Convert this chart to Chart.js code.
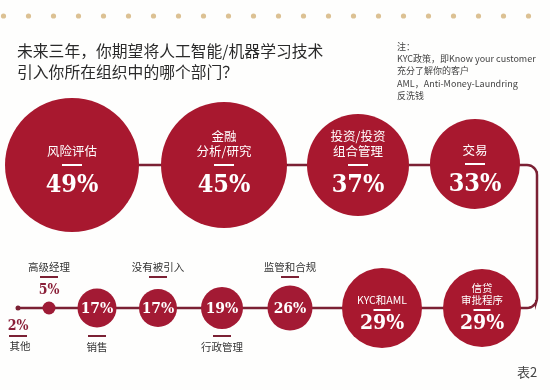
<!DOCTYPE html>
<html><head><meta charset="utf-8">
<script src="https://cdn.jsdelivr.net/npm/chart.js@4"></script>
<style>
html,body{margin:0;padding:0;background:#fefefd;}
#wrap{position:relative;width:550px;height:390px;overflow:hidden;}
#c{position:absolute;left:0;top:0;}
.title{position:absolute;left:17px;top:40px;font:15.8px/21px "Noto Sans CJK SC",sans-serif;color:#2a2a2a;white-space:nowrap;}
.note{position:absolute;left:397px;top:41px;font:9px/12.2px "Noto Sans CJK SC",sans-serif;color:#444;white-space:nowrap;}
.tab{position:absolute;left:517px;top:363px;font:13px/18px "Noto Sans CJK SC",sans-serif;color:#444;}
</style></head>
<body>
<div id="wrap">
<canvas id="c" width="550" height="390"></canvas>
<div class="title">未来三年，你期望将人工智能/机器学习技术<br>引入你所在组织中的哪个部门？</div>
<div class="note">注：<br>KYC政策，即Know your customer<br>充分了解你的客户<br>AML，Anti-Money-Laundring<br>反洗钱</div>
<div class="tab">表2</div>
</div>
<script>
// ---- data ----
const categories = ['风险评估','金融\n分析/研究','投资/投资\n组合管理','交易','信贷\n审批程序','KYC和AML','监管和合规','行政管理','没有被引入','销售','高级经理','其他'];
const values = [49,45,37,33,29,29,26,19,17,17,5,2];

// ---- layout (snake path slots, bubble sizes, label styles) ----
const slotX = [72,224,358,475,482,382,290,222,158,97,49,18];
const slotY = [165,165,165,164,308,308,308,308,308,308,308,308];
const radius = [67,63,51,45,39,40,22.5,21,19,19.5,6.5,2.5];
const kinds = ['big','big','big','big','bigB','bigB','smallA','smallB','smallA','smallB','dotA','dotB'];
const fills = ['#a8182f','#a8182f','#a8182f','#a8182f','#a8182f','#a8182f','#a31a34','#a31a34','#a31a34','#a31a34','#9e1b36','#7b2134'];
const LINE = '#7b2134';
const CJK = '"Noto Sans CJK SC", sans-serif';
const PCT = '"DejaVu Serif Condensed","DejaVu Serif",serif';

// connector path with rounded corners on the right
function arcPts(cx, cy, r, a0, a1, n){
  const p=[]; for(let k=0;k<=n;k++){const a=(a0+(a1-a0)*k/n)*Math.PI/180; p.push({x:cx+r*Math.cos(a), y:cy+r*Math.sin(a)});} return p;
}
const rightX = 537, cr = 10, topY = slotY[0], botY = slotY[4];
const connector = [{x:slotX[0],y:topY}]
  .concat(arcPts(rightX-cr, topY+cr, cr, -90, 0, 8))
  .concat(arcPts(rightX-cr, botY-cr, cr, 0, 90, 8))
  .concat([{x:slotX[11], y:botY}]);

const bgPlugin = {
  id:'bg',
  beforeDraw(chart){
    const ctx = chart.ctx; ctx.save();
    ctx.fillStyle = '#dcc193';
    for(let i=0;i<22;i++){ ctx.beginPath(); ctx.arc(3.5+25*i, 16, 2.6, 0, Math.PI*2); ctx.fill(); }
    ctx.restore();
  }
};

const labelPlugin = {
  id:'labels',
  afterDatasetsDraw(chart){
    const ctx = chart.ctx;
    const meta = chart.getDatasetMeta(1);
    ctx.save();
    ctx.textAlign = 'center'; ctx.textBaseline = 'middle';
    meta.data.forEach((el,i)=>{
      const x = el.x, y = el.y, k = kinds[i];
      const lines = categories[i].split('\n');
      const pct = values[i] + '%';
      if (k === 'big' || k === 'bigB') {
        const big = k === 'big';
        ctx.fillStyle = '#ffffff';
        ctx.font = (big ? '12.5px ' : '10.5px ') + CJK;
        const lh = big ? 15 : 12, last = big ? -14 : -8;
        lines.forEach((t,j)=>{ ctx.fillText(t, x, y + last - (lines.length-1-j)*lh); });
        const dw = big ? 20 : 17;
        ctx.fillRect(x - dw/2, y + (big ? -1 : 1), dw, 2);
        ctx.font = 'bold ' + (big ? 25 : 21) + 'px ' + PCT;
        ctx.fillText(pct, x, y + (big ? 20 : 16));
      } else if (k === 'smallA' || k === 'smallB') {
        ctx.fillStyle = '#ffffff';
        ctx.font = 'bold 15.5px ' + PCT;
        ctx.fillText(pct, x, y + 1);
        ctx.fillStyle = '#333333';
        ctx.font = '10.5px ' + CJK;
        if (k === 'smallA') { ctx.fillText(lines[0], x, y - 41); ctx.fillStyle = LINE; ctx.fillRect(x-9, y-32, 18, 2); }
        else { ctx.fillText(lines[0], x, y + 39); ctx.fillStyle = LINE; ctx.fillRect(x-9, y+27, 18, 2); }
      } else {
        const above = k === 'dotA';
        ctx.fillStyle = '#333333';
        ctx.font = '10.5px ' + CJK;
        ctx.fillText(lines[0], x + (above?0:2), y + (above ? -41 : 38));
        ctx.fillStyle = LINE;
        ctx.fillRect(x-9, y + (above ? -32 : 27), 18, 2);
        ctx.fillStyle = '#8a1f38';
        ctx.font = 'bold 14px ' + PCT;
        ctx.fillText(pct, x, y + (above ? -18 : 18));
      }
    });
    ctx.restore();
  }
};

new Chart(document.getElementById('c'), {
  data: {
    datasets: [
      { type:'line', data: connector, borderColor: LINE, borderWidth: 2.5, pointRadius: 0, tension: 0, order: 2, fill:false, clip:false },
      { type:'bubble', data: values.map((v,i)=>({x:slotX[i], y:slotY[i], r:radius[i]})), backgroundColor: fills, borderWidth: 0, hoverRadius: 0, order: 1, clip:false }
    ]
  },
  options: {
    responsive:false, animation:false, events:[],
    layout:{padding:0, autoPadding:false},
    scales:{
      x:{type:'linear', min:0, max:550, display:false},
      y:{type:'linear', min:0, max:390, reverse:true, display:false}
    },
    plugins:{legend:{display:false}, tooltip:{enabled:false}}
  },
  plugins:[bgPlugin, labelPlugin]
});
</script>
</body></html>
